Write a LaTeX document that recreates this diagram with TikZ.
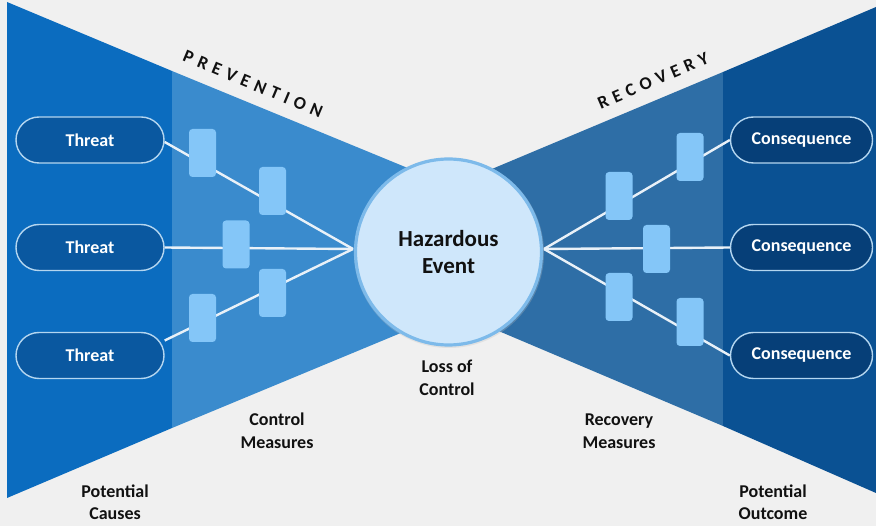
\documentclass[tikz,border=0pt]{standalone}
\usepackage{fontspec}
\usetikzlibrary{calc}
\setmainfont{Carlito}
\newfontfamily\spacedfont[LetterSpace=32]{Carlito}
\definecolor{bgc}{HTML}{F0F0F0}
\definecolor{ldark}{HTML}{0B6CBF}
\definecolor{llight}{HTML}{3A8BCD}
\definecolor{rmid}{HTML}{2E6EA6}
\definecolor{rdark}{HTML}{0A5193}
\definecolor{tpill}{HTML}{0A58A0}
\definecolor{cpill}{HTML}{063F78}
\definecolor{pillrim}{HTML}{B4D6F0}
\definecolor{barc}{HTML}{84C6F8}
\definecolor{linec}{HTML}{E9F1F8}
\definecolor{circfill}{HTML}{CFE7FB}
\definecolor{circrim}{HTML}{7DBAEA}
\definecolor{txt}{HTML}{111111}
\begin{document}
\begin{tikzpicture}[x=1pt,y=-1pt,
  pill/.style={draw=pillrim, line width=1.4pt, rounded corners=23pt, minimum width=148pt, minimum height=46pt, inner sep=0pt, text=white, font=\bfseries\fontsize{18}{20}\selectfont},
  barrier/.style={fill=barc, rounded corners=3.5pt, minimum width=27pt, minimum height=48pt, inner sep=0pt},
  link/.style={draw=linec, line width=2.4pt},
  lbl/.style={align=center, text=txt, font=\bfseries\fontsize{18}{22.5}\selectfont},
  band/.style={text=txt, font=\spacedfont\bfseries\fontsize{18}{20}\selectfont}
]
\useasboundingbox (0,0) rectangle (876,526);
\fill[bgc] (0,0) rectangle (876,526);
% bow-tie background
\fill[ldark] (7,2) -- (172,71) -- (172,428) -- (7,498) -- cycle;
\fill[llight] (172,71) -- (449,185) -- (449,313) -- (172,428) -- cycle;
\fill[rmid] (449,187) -- (723,72) -- (723,426) -- (449,310) -- cycle;
\fill[rdark] (723,72) -- (876,7) -- (876,493) -- (723,426) -- cycle;

% convergence points
\coordinate (cl) at (353,249);
\coordinate (cr) at (544,249);

% pills
\node[pill, fill=tpill] (t1) at (90,140) {Threat};
\node[pill, fill=tpill] (t2) at (90,247.5) {Threat};
\node[pill, fill=tpill] (t3) at (90,355.5) {Threat};
\node[pill, fill=cpill, minimum width=142pt] (c1) at (801.5,140) {Consequence};
\node[pill, fill=cpill, minimum width=142pt] (c2) at (801.5,247.5) {Consequence};
\node[pill, fill=cpill, minimum width=142pt] (c3) at (801.5,355.5) {Consequence};

% links
\draw[link] ($(t1.east)+(0,2)$) -- (cl);
\draw[link] (t2.east) -- (cl);
\draw[link] ($(t3.east)+(0,-15)$) -- (cl);
\draw[link] (cr) -- (c1.west);
\draw[link] (cr) -- (c2.west);
\draw[link] (cr) -- (c3.west);

% barriers
\node[barrier] (ba) at (202.5,153) {};
\node[barrier] (bb) at (272.5,191) {};
\node[barrier] (bc) at (236,244.5) {};
\node[barrier] (bd) at (272.5,293) {};
\node[barrier] (be) at (202.5,318) {};
\node[barrier] (bf) at (690,157) {};
\node[barrier] (bg) at (619,196) {};
\node[barrier] (bh) at (656.5,249) {};
\node[barrier] (bi) at (619,297) {};
\node[barrier] (bj) at (690,322) {};

% central event
\fill[black!25, opacity=0.3] (449,253) circle (95);
\node[circle, fill=circfill, draw=circrim, line width=3.2pt, minimum size=186pt, inner sep=0pt, lbl, font=\bfseries\fontsize{23}{27}\selectfont] (he) at (448.5,252) {Hazardous\\Event};

% labels
\node[lbl] (loss) at (447,378) {Loss of\\Control};
\node[lbl] (cm) at (277,431) {Control\\Measures};
\node[lbl] (rm) at (619,431) {Recovery\\Measures};
\node[lbl] (pc) at (115,502) {Potential\\Causes};
\node[lbl] (po) at (773,502) {Potential\\Outcome};
\node[band, rotate=-22.8] (prev) at (253,84) {PREVENTION};
\node[band, rotate=23.3] (reco) at (653,81) {RECOVERY};
\end{tikzpicture}
\end{document}
